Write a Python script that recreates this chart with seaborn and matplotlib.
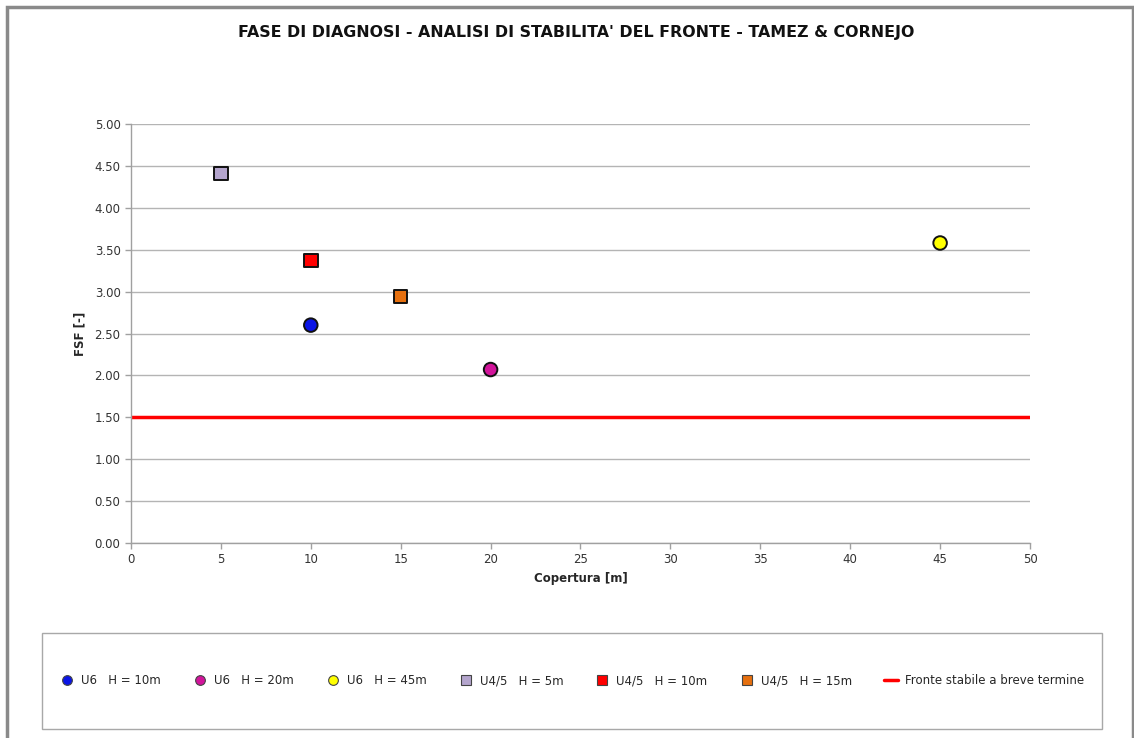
import pandas as pd
import numpy as np
import seaborn as sns
import matplotlib.pyplot as plt
from matplotlib.patches import Rectangle
from matplotlib.lines import Line2D

# Data
labels = ["U6   H = 10m", "U6   H = 20m", "U6   H = 45m",
          "U4/5   H = 5m", "U4/5   H = 10m", "U4/5   H = 15m"]
copertura = [10, 20, 45, 5, 10, 15]
fsf = [2.60, 2.07, 3.58, 4.41, 3.37, 2.94]
colors = ["#0a14e6", "#d2149b", "#ffff00", "#b4a5cd", "#ff0000", "#e6700f"]
markers = ["o", "o", "o", "s", "s", "s"]
fsf_limit = 1.50
limit_label = "Fronte stabile a breve termine"

df = pd.DataFrame({"Copertura": copertura, "FSF": fsf, "Serie": labels})

sns.set_style("white")
plt.rcParams['font.family'] = ['DejaVu Sans']

fig = plt.figure(figsize=(11.34, 7.38), dpi=100)
ax = fig.add_axes([0.1155, 0.2642, 0.7928, 0.5678])

ax.axhline(fsf_limit, color="#ff0000", lw=2.5, zorder=2)

sns.scatterplot(data=df, x="Copertura", y="FSF", hue="Serie", style="Serie",
                palette=dict(zip(labels, colors)),
                markers=dict(zip(labels, markers)),
                s=95, edgecolor="#111111", linewidth=1.4, ax=ax, legend=False, zorder=3)

ax.set_xlim(0, 50)
ax.set_ylim(0, 5)
ax.set_xticks(np.arange(0, 51, 5))
ax.set_yticks(np.arange(0, 5.01, 0.5))
ax.set_yticklabels([f"{v:.2f}" for v in np.arange(0, 5.01, 0.5)])
ax.grid(axis="y", color="#b4b4b4", lw=1)
ax.set_axisbelow(True)
for s in ["top", "right"]:
    ax.spines[s].set_visible(False)
for s in ["left", "bottom"]:
    ax.spines[s].set_color("#a0a0a0")
    ax.spines[s].set_linewidth(1)
ax.tick_params(axis="both", direction="out", length=4, width=1, color="#a0a0a0",
               labelsize=8.5, labelcolor="#333333", left=True, bottom=True)
ax.set_xlabel("Copertura [m]", fontsize=8.5, fontweight="bold", labelpad=4)
ax.set_ylabel("FSF [-]", fontsize=8.5, fontweight="bold", labelpad=6)

fig.suptitle("FASE DI DIAGNOSI - ANALISI DI STABILITA' DEL FRONTE - TAMEZ & CORNEJO",
             x=0.508, y=0.966, fontsize=11.4, fontweight="bold", color="#111111")

# outer chart frame
fig.patches.append(Rectangle((7 / 1134, -0.01), 1126 / 1134, 1 - 7 / 738 + 0.01,
                             transform=fig.transFigure, fill=False,
                             edgecolor="#8a8a8a", lw=2.5))

# legend
handles = [Line2D([], [], ls="none", marker=m, markersize=7, markerfacecolor=c,
                  markeredgecolor="#444444", markeredgewidth=0.8)
           for m, c in zip(markers, colors)]
handles.append(Line2D([], [], color="#ff0000", lw=2.5))
leg = fig.legend(handles, labels + [limit_label], loc="center",
                 bbox_to_anchor=(42 / 1134, 1 - 729 / 738, 1060 / 1134, 96 / 738),
                 ncol=7, frameon=False, fontsize=8.5,
                 handlelength=1.2, handletextpad=0.6, columnspacing=2.7,
                 borderpad=1.0)
fig.patches.append(Rectangle((42 / 1134, 1 - 729 / 738), 1060 / 1134, 96 / 738,
                             transform=fig.transFigure, fill=False,
                             edgecolor="#a8a8a8", lw=1))

fig.savefig("out.png", dpi=100)
